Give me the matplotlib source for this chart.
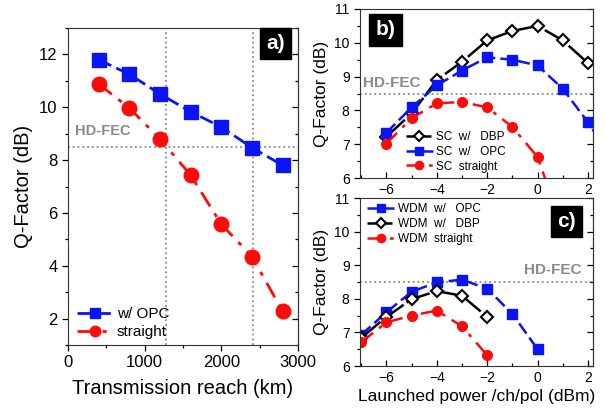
import matplotlib
matplotlib.use('Agg')
import matplotlib.pyplot as plt
from matplotlib.ticker import MultipleLocator

plt.rcParams['font.family'] = ['Liberation Sans', 'DejaVu Sans']

# panel a data
reach = [400, 800, 1200, 1600, 2000, 2400, 2800]
q_opc_a = [11.8, 11.25, 10.5, 9.83, 9.25, 8.47, 7.8]
q_straight_a = [10.88, 9.97, 8.8, 7.43, 5.57, 4.35, 2.27]
reach_marks = [1275, 2410]

# panel b data (single channel)
pw_b = [-6, -5, -4, -3, -2, -1, 0, 1, 2]
q_dbp_b = [7.22, 7.91, 8.9, 9.44, 10.07, 10.35, 10.5, 10.07, 9.4]
pw_opc_b = [-6, -5, -4, -3, -2, -1, 0, 1, 2, 3]
q_opc_b = [7.34, 8.09, 8.74, 9.18, 9.57, 9.5, 9.33, 8.64, 7.65, 6.5]
pw_str_b = [-6, -5, -4, -3, -2, -1, 0, 1]
q_str_b = [7.02, 7.77, 8.21, 8.25, 8.09, 7.51, 6.62, 4.5]

# panel c data (WDM)
pw_opc_c = [-7, -6, -5, -4, -3, -2, -1, 0]
q_opc_c = [6.93, 7.6, 8.21, 8.49, 8.57, 8.3, 7.55, 6.5]
pw_dbp_c = [-7, -6, -5, -4, -3, -2]
q_dbp_c = [6.84, 7.46, 7.99, 8.23, 8.09, 7.46]
pw_str_c = [-7, -6, -5, -4, -3, -2]
q_str_c = [6.71, 7.3, 7.5, 7.65, 7.18, 6.32]

hd_fec = 8.5

W, H = 605, 409
fig = plt.figure(figsize=(W / 100, H / 100), dpi=100)


def box(l, r, t, b):
    return [l / W, (H - b) / H, (r - l) / W, (b - t) / H]


def label_box(ax, x, y, s, fs):
    ax.text(x, y, s, transform=ax.transAxes, color='white', fontsize=fs,
            fontweight='bold', ha='center', va='center',
            bbox=dict(facecolor='black', edgecolor='black', boxstyle='square,pad=0.3'))


def style_ticks(ax, bottom_dir, ymaj, ymin):
    ax.tick_params(axis='y', which='both', left=True, right=False, direction='out')
    ax.tick_params(axis='x', which='both', direction=bottom_dir)
    ax.tick_params(which='major', length=4, width=0.9)
    ax.tick_params(which='minor', length=2.5, width=0.9)
    sec = ax.secondary_yaxis('right')
    sec.tick_params(which='both', direction='in', labelright=False)
    sec.tick_params(which='major', length=4, width=0.9)
    sec.tick_params(which='minor', length=2.5, width=0.9)
    sec.yaxis.set_major_locator(MultipleLocator(ymaj))
    sec.yaxis.set_minor_locator(MultipleLocator(ymin))
    for sp in ax.spines.values():
        sp.set_color('#333333')
    sec.spines['right'].set_color('#333333')


blue = '#0a14f5'
red = '#ff0a0a'
gray = '#8a8a8a'

# ---------------- panel a ----------------
ax1 = fig.add_axes(box(68, 298, 28, 345))
ax1.plot(reach, q_opc_a, color=blue, marker='s', ms=10, lw=2, dashes=(5, 2),
         label='w/ OPC')
ax1.plot(reach, q_straight_a, color=red, marker='o', ms=10.5, lw=2,
         dashes=(6, 3, 1.5, 3), label='straight')
ax1.axhline(hd_fec, color=gray, ls=':', lw=1.3, zorder=0)
for r in reach_marks:
    ax1.axvline(r, color=gray, ls=':', lw=1.3, zorder=0)
ax1.text(90, 9.1, 'HD-FEC', color=gray, fontsize=10.5, fontweight='bold', va='center')
ax1.set_xlim(0, 3000)
ax1.set_ylim(1, 13)
ax1.xaxis.set_major_locator(MultipleLocator(1000))
ax1.xaxis.set_minor_locator(MultipleLocator(500))
ax1.yaxis.set_major_locator(MultipleLocator(2))
ax1.yaxis.set_minor_locator(MultipleLocator(1))
ax1.tick_params(labelsize=12)
ax1.set_xlabel('Transmission reach (km)', fontsize=14.5, labelpad=6)
ax1.set_ylabel('Q-Factor (dB)', fontsize=14.5)
style_ticks(ax1, 'out', 2, 1)
ax1.legend(loc='lower left', bbox_to_anchor=(0.0, -0.01), frameon=False,
           fontsize=11, handlelength=2.3, handletextpad=0.3, labelspacing=0.25,
           borderaxespad=0.2, markerscale=0.72)
label_box(ax1, 0.902, 0.951, 'a)', 15)

# ---------------- panel b ----------------
ax2 = fig.add_axes(box(360, 593, 9, 178))
ax2.plot(pw_b, q_dbp_b, color='black', marker='D', ms=6, mfc='white', mew=1.5,
         lw=1.8, dashes=(10, 1.5), label='SC  w/   DBP')
ax2.plot(pw_opc_b, q_opc_b, color=blue, marker='s', ms=6.5, lw=1.8, dashes=(5, 2),
         label='SC  w/   OPC')
ax2.plot(pw_str_b, q_str_b, color=red, marker='o', ms=7, lw=1.8,
         dashes=(6, 3, 1.5, 3), label='SC  straight')
ax2.axhline(hd_fec, color=gray, ls=':', lw=1.3, zorder=0)
ax2.text(-6.95, 8.8, 'HD-FEC', color=gray, fontsize=11, fontweight='bold', va='center')
ax2.set_xlim(-7.05, 2.2)
ax2.set_ylim(6, 11)
ax2.xaxis.set_major_locator(MultipleLocator(2))
ax2.xaxis.set_minor_locator(MultipleLocator(1))
ax2.yaxis.set_major_locator(MultipleLocator(1))
ax2.yaxis.set_minor_locator(MultipleLocator(0.5))
ax2.tick_params(labelsize=10)
ax2.set_ylabel('Q-Factor (dB)', fontsize=12.5)
style_ticks(ax2, 'in', 1, 0.5)
ax2.legend(loc='lower left', bbox_to_anchor=(0.165, -0.01), frameon=False,
           fontsize=8.5, handlelength=2.3, handletextpad=0.3, labelspacing=0.25,
           borderaxespad=0.2, markerscale=0.85)
label_box(ax2, 0.109, 0.876, 'b)', 15)

# ---------------- panel c ----------------
ax3 = fig.add_axes(box(360, 593, 198, 366))
ax3.plot(pw_opc_c, q_opc_c, color=blue, marker='s', ms=6.5, lw=1.8, dashes=(5, 2),
         label='WDM  w/   OPC')
ax3.plot(pw_dbp_c, q_dbp_c, color='black', marker='D', ms=6, mfc='white', mew=1.5,
         lw=1.8, dashes=(10, 1.5), label='WDM  w/   DBP')
ax3.plot(pw_str_c, q_str_c, color=red, marker='o', ms=7, lw=1.8,
         dashes=(6, 3, 1.5, 3), label='WDM  straight')
ax3.axhline(hd_fec, color=gray, ls=':', lw=1.3, zorder=0)
ax3.text(1.75, 8.85, 'HD-FEC', color=gray, fontsize=11, fontweight='bold',
         va='center', ha='right')
ax3.set_xlim(-7.05, 2.2)
ax3.set_ylim(6, 11)
ax3.xaxis.set_major_locator(MultipleLocator(2))
ax3.xaxis.set_minor_locator(MultipleLocator(1))
ax3.yaxis.set_major_locator(MultipleLocator(1))
ax3.yaxis.set_minor_locator(MultipleLocator(0.5))
ax3.tick_params(labelsize=10)
ax3.set_ylabel('Q-Factor (dB)', fontsize=12.5)
ax3.set_xlabel('Launched power /ch/pol (dBm)', fontsize=12.5, labelpad=3)
style_ticks(ax3, 'in', 1, 0.5)
ax3.legend(loc='upper left', bbox_to_anchor=(0.0, 1.01), frameon=False,
           fontsize=8.5, handlelength=2.3, handletextpad=0.3, labelspacing=0.25,
           borderaxespad=0.2, markerscale=0.85)
label_box(ax3, 0.886, 0.86, 'c)', 15)

fig.savefig('out.png', dpi=100)
